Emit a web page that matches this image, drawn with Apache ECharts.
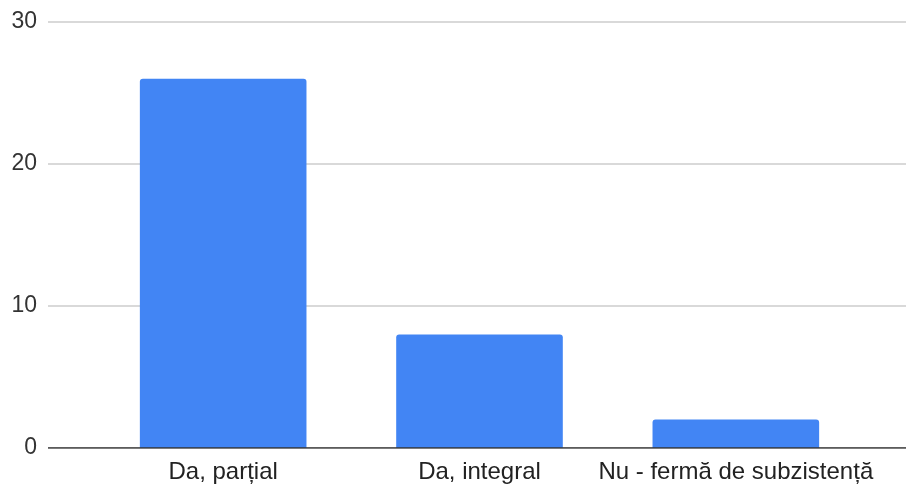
<!DOCTYPE html>
<html>
<head>
<meta charset="utf-8">
<script src="https://cdn.jsdelivr.net/npm/echarts@6/dist/echarts.min.js"></script>
<style>
  html, body { margin: 0; padding: 0; background: #fff; }
  #chart { width: 906px; height: 485px; }
</style>
</head>
<body>
<div id="chart"></div>
<script>
const categories = ['Da, parțial', 'Da, integral', 'Nu - fermă de subzistență']
const counts = [26, 8, 2]
const yTicks = { min: 0, max: 30, interval: 10 }

const chart = echarts.init(document.getElementById('chart'))

const font = 'Liberation Sans, Arial, sans-serif'

chart.setOption({
  animation: false,
  // grid 0: full-width gridlines + y labels, grid 1: the bars
  grid: [
    { left: 48, right: 0, top: 22, bottom: 37 },
    { left: 95, right: 42, top: 22, bottom: 37 },
  ],
  xAxis: [
    {
      gridIndex: 0,
      type: 'value',
      min: 0,
      max: 1,
      show: true,
      axisLine: { show: false },
      axisTick: { show: false },
      axisLabel: { show: false },
      splitLine: { show: false },
    },
    {
      gridIndex: 1,
      type: 'category',
      data: categories,
      axisLine: { show: false },
      axisTick: { show: false },
      axisLabel: { color: '#222', fontSize: 24, fontFamily: font, margin: 12, interval: 0 },
    },
  ],
  yAxis: [
    {
      gridIndex: 0,
      type: 'value',
      ...yTicks,
      axisLine: { show: false },
      axisTick: { show: false },
      axisLabel: { color: '#333', fontSize: 23, fontFamily: font, margin: 11 },
      splitLine: { lineStyle: { color: '#cccccc', width: 1.5 } },
    },
    {
      gridIndex: 1,
      type: 'value',
      ...yTicks,
      show: false,
    },
  ],
  series: [
    {
      type: 'line',
      xAxisIndex: 0,
      yAxisIndex: 0,
      data: [[0, 0], [1, 0]],
      symbol: 'none',
      lineStyle: { color: '#333', width: 1.5 },
      silent: true,
      z: 5,
    },
    {
      type: 'bar',
      xAxisIndex: 1,
      yAxisIndex: 1,
      data: counts,
      barWidth: '65%',
      itemStyle: { color: '#4285f4', borderRadius: [3, 3, 0, 0] },
      z: 3,
    },
  ],
})
</script>
</body>
</html>
